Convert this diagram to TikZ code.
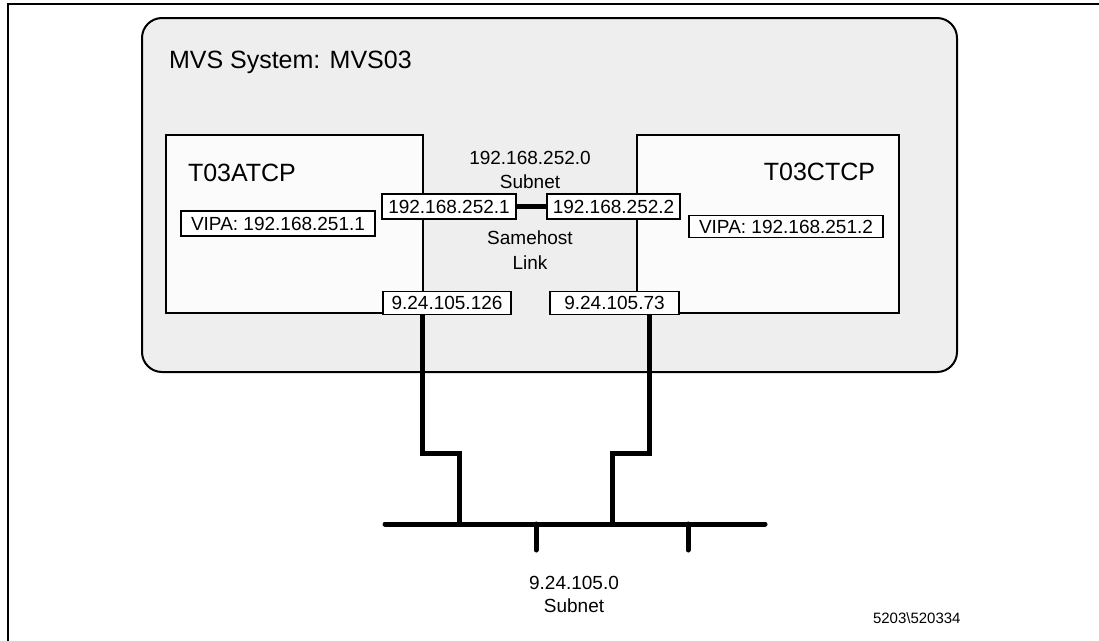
\documentclass[tikz,border=0pt]{standalone}
\usepackage{fontspec}
\setmainfont{Liberation Sans}
\definecolor{sysfill}{HTML}{EEEEEE}
\definecolor{tcpfill}{HTML}{FBFBFB}
\begin{document}
\begin{tikzpicture}[x=1pt,y=-1pt,
  every node/.style={inner sep=0pt, outer sep=0pt},
  ipbox/.style={draw, line width=1.8pt, fill=white, font=\fontsize{19}{22}\selectfont},
  lbl/.style={font=\fontsize{19}{22}\selectfont, anchor=base},
  bigtxt/.style={font=\fontsize{25}{30}\selectfont},
  tcpbox/.style={draw, line width=2.4pt, fill=tcpfill},
  netline/.style={line width=5pt},
  ]
\useasboundingbox (0,0) rectangle (1099,640);
\draw[line width=2pt] (8,4) rectangle (1130,670);

% system box
\node[draw, line width=2pt, rounded corners=20pt, fill=sysfill,
      minimum width=815pt, minimum height=354pt] (mvs) at (549.5,195) {};
\node[bigtxt, anchor=base west] (title) at (169,68) {MVS System: MVS03};

% TCP stacks
\node[tcpbox, minimum width=257pt, minimum height=178pt] (lbox) at (294.5,224) {};
\node[tcpbox, minimum width=262pt, minimum height=178pt] (rbox) at (768,224) {};
\node[bigtxt, anchor=base west] (ta) at (188,181) {T03ATCP};
\node[bigtxt, anchor=base east] (tc) at (875,180) {T03CTCP};

% address boxes
\node[ipbox, minimum width=194pt, minimum height=25pt] (vipa1) at (278,223.5) {VIPA: 192.168.251.1};
\node[ipbox, minimum width=194pt, minimum height=22pt] (vipa2) at (786,226.5) {VIPA: 192.168.251.2};
\node[ipbox, minimum width=134pt, minimum height=25pt] (ip1) at (449,206.5) {192.168.252.1};
\node[ipbox, minimum width=133pt, minimum height=25pt] (ip2) at (613.5,206.5) {192.168.252.2};
\node[ipbox, minimum width=128pt, minimum height=23pt] (ip126) at (447,303) {9.24.105.126};
\node[ipbox, minimum width=129pt, minimum height=23pt] (ip73) at (614.5,303) {9.24.105.73};

% labels
\node[lbl] (sn1) at (530,164) {192.168.252.0};
\node[lbl] (sn2) at (530,188) {Subnet};
\node[lbl] (sh1) at (530,244) {Samehost};
\node[lbl] (sh2) at (530,269) {Link};
\node[lbl] (ln1) at (574,589) {9.24.105.0};
\node[lbl] (ln2) at (574,612) {Subnet};
\node[font=\fontsize{15}{18}\selectfont, anchor=base west] (code) at (873,623) {5203\textbackslash 520334};

% samehost link
\draw[netline] (ip1.east) -- (ip2.west);

% LAN
\coordinate (busL) at (385,524);
\coordinate (busR) at (765,524);
\coordinate (tick1) at (536,550);
\coordinate (tick2) at (688,550);
\coordinate (lb) at (459,453);
\coordinate (rb) at (612,453);
\draw[netline, line cap=round] (busL) -- (busR);
\draw[netline, line cap=round] (tick1 |- busL) -- (tick1);
\draw[netline, line cap=round] (tick2 |- busL) -- (tick2);
\draw[netline] ([xshift=-25pt]ip126.south) |- (lb) -- (lb |- busL);
\draw[netline] ([xshift=34.5pt]ip73.south) |- (rb) -- (rb |- busL);
\end{tikzpicture}
\end{document}
